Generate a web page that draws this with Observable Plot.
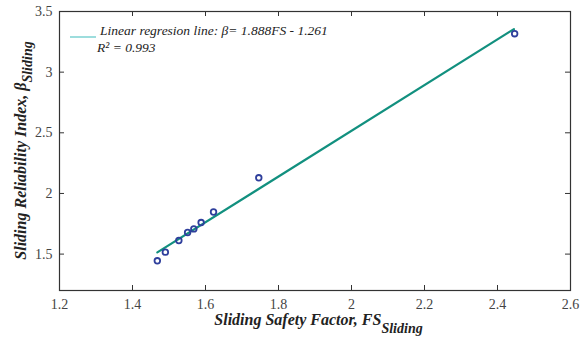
<!DOCTYPE html>
<html><head><meta charset="utf-8">
<script src="https://cdn.jsdelivr.net/npm/d3@7"></script>
<script src="https://cdn.jsdelivr.net/npm/@observablehq/plot@0.6"></script>
<style>body{margin:0;background:#fff;overflow:hidden}</style>
</head><body><div id="chart"></div>
<script>
// Observed data points
const fsSliding   = [1.468, 1.490, 1.527, 1.551, 1.568, 1.588, 1.622, 1.746, 2.447];
const betaSliding = [1.445, 1.516, 1.612, 1.678, 1.708, 1.760, 1.847, 2.129, 3.317];
// Regression line end points (β = 1.888 FS − 1.261)
const fitFS   = [1.468, 2.445];
const fitBeta = [1.514, 3.355];
// Axis ticks
const xTicks = [1.2, 1.4, 1.6, 1.8, 2.0, 2.2, 2.4, 2.6];
const yTicks = [1.5, 2.0, 2.5, 3.0, 3.5];
const legendText = "Linear regresion line: \u03B2= 1.888FS - 1.261";
const r2Text = "R\u00B2 = 0.993";

const points = fsSliding.map((x, i) => ({x, y: betaSliding[i]}));
const fit = fitFS.map((x, i) => ({x, y: fitBeta[i]}));

const W = 580, H = 341, mL = 59, mR = 10, mT = 11, mB = 51;
const pw = W - mL - mR, ph = H - mT - mB;

const chart = Plot.plot({
  width: W, height: H,
  marginLeft: mL, marginRight: mR, marginTop: mT, marginBottom: mB,
  style: {fontFamily: "'Liberation Serif', serif", fontSize: "14px", color: "#444", background: "#fff"},
  x: {domain: [1.2, 2.6], ticks: xTicks, tickSize: 0, tickPadding: 9, tickFormat: d => String(d), label: null},
  y: {domain: [1.2, 3.5], ticks: yTicks, tickSize: 0, tickPadding: 7, tickFormat: d => String(d), label: null},
  marks: [
    Plot.frame({stroke: "#333", strokeWidth: 1.2}),
    Plot.tickX(xTicks, {x: d => d, insetTop: ph - 5, stroke: "#333"}),
    Plot.tickX(xTicks, {x: d => d, insetBottom: ph - 5, stroke: "#333"}),
    Plot.tickY(yTicks, {y: d => d, insetRight: pw - 5, stroke: "#333"}),
    Plot.tickY(yTicks, {y: d => d, insetLeft: pw - 5, stroke: "#333"}),
    Plot.line(fit, {x: "x", y: "y", stroke: "#12907f", strokeWidth: 2.2}),
    Plot.dot(points, {x: "x", y: "y", r: 2.8, stroke: "#2f3f9c", strokeWidth: 1.8, fill: "none"})
  ]
});
document.getElementById("chart").append(chart);

const svg = d3.select(chart);
const lab = svg.append("g").attr("font-family", "'Liberation Serif', serif").attr("fill", "#222");
// legend
lab.append("line").attr("x1", 70).attr("x2", 96).attr("y1", 37).attr("y2", 37)
  .attr("stroke", "#5cc6c6").attr("stroke-width", 1.2);
lab.append("text").attr("x", 100).attr("y", 35).attr("text-anchor", "start").attr("font-size", 13.5)
  .attr("font-style", "italic").text(legendText);
lab.append("text").attr("x", 97).attr("y", 52).attr("text-anchor", "start").attr("font-size", 13.5)
  .attr("font-style", "italic").text(r2Text);
// x label
const xl = lab.append("text").attr("x", mL + pw / 2 + 4).attr("y", 325).attr("text-anchor", "middle")
  .attr("font-size", 16).attr("font-style", "italic").attr("font-weight", "bold");
xl.append("tspan").text("Sliding Safety Factor, FS");
xl.append("tspan").attr("dy", 8).attr("font-size", 14).text("Sliding");
// y label
const yl = lab.append("text").attr("transform", `translate(26,${mT + ph / 2}) rotate(-90)`).attr("text-anchor", "middle")
  .attr("font-size", 16).attr("font-style", "italic").attr("font-weight", "bold");
yl.append("tspan").text("Sliding Reliability Index, \u03B2");
yl.append("tspan").attr("dy", 6).attr("font-size", 14).text("Sliding");
</script>
</body></html>
